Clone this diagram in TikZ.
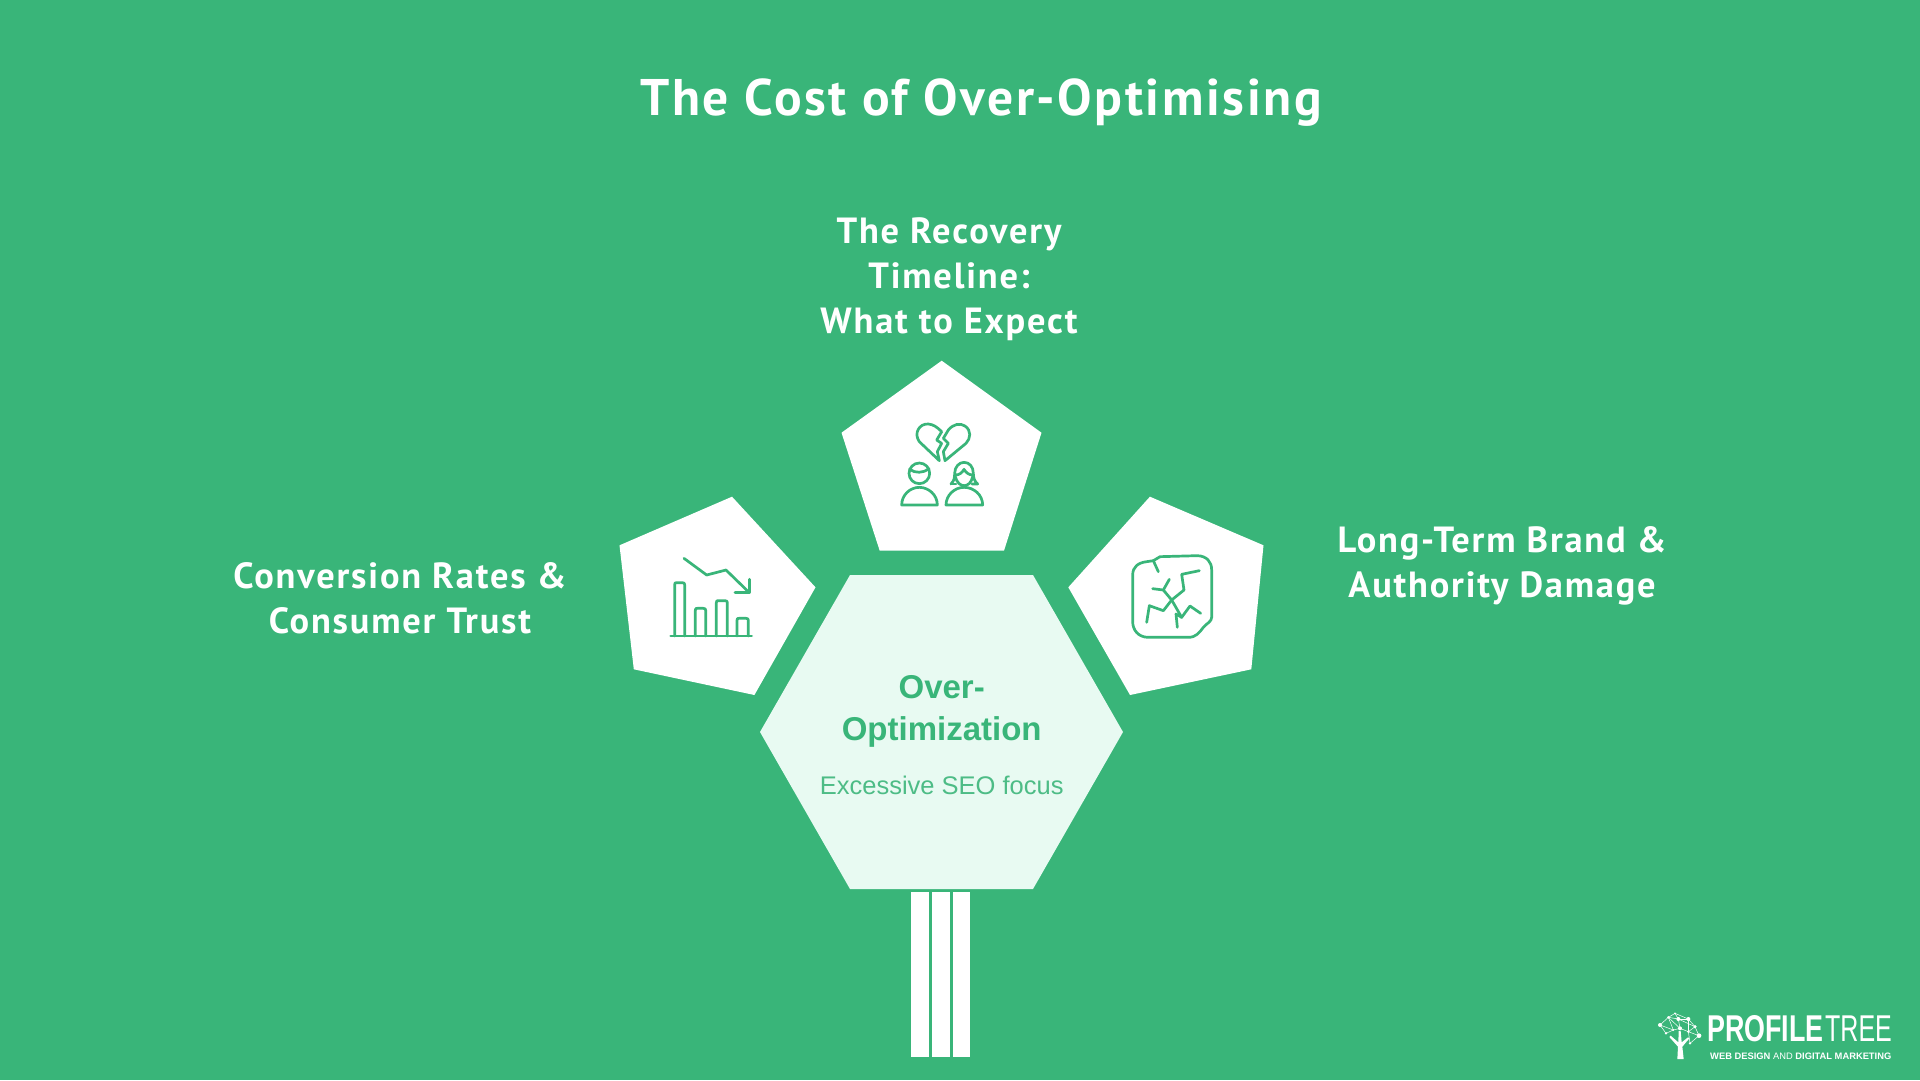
\documentclass[tikz,border=0pt]{standalone}
\usepackage{fontspec}
\setmainfont{Liberation Sans}
\newfontfamily\headfont{PT Sans}[LetterSpace=5]
\newfontfamily\logobold{Liberation Sans}[FakeStretch=0.72]
\newfontfamily\logoreg{Liberation Sans}[FakeStretch=0.67]
\definecolor{bggreen}{HTML}{39B579}
\definecolor{hexfill}{HTML}{E8FAF2}
\tikzset{
  x=1pt,y=-1pt,
  pentagon/.style={fill=white,draw=none},
  hexagon/.style={fill=hexfill,draw=none},
  stripe/.style={fill=white,draw=none},
  iconline/.style={draw=bggreen,line width=2.7pt,line cap=round,line join=round,fill=none},
  title/.style={text=white,font=\headfont\bfseries\fontsize{51.5}{56}\selectfont,align=center},
  label/.style={text=white,font=\headfont\bfseries\fontsize{36.4}{45}\selectfont,align=center},
  hexhead/.style={text=bggreen,font=\bfseries\fontsize{33}{42}\selectfont,align=center},
  hexsub/.style={text=bggreen!90!white,font=\fontsize{25.5}{30}\selectfont,align=center},
  logoline/.style={draw=white,line width=0.5pt},
  logodot/.style={fill=white,draw=none},
  icon/.style={shift={#1},x=0.33333pt,y=-0.33333pt},
}
\begin{document}
\begin{tikzpicture}
\useasboundingbox (0,0) rectangle (1920,1080);
\fill[bggreen] (0,0) rectangle (1920,1080);
% texts
\node[title] (ttl) at (981,103) {The Cost of Over-Optimising};
\node[label] (l1) at (949,279) {The Recovery\\Timeline:\\What to Expect};
\node[label] (l2) at (400,598) {Conversion Rates \&\\Consumer Trust};
\node[label] (l3) at (1502,566) {Long-Term Brand \&\\Authority Damage};
% pentagons
\fill[pentagon] (941.7,360.7) -- (1041.5,432.7) -- (1004,550.7) -- (879.7,550.7) -- (841.5,432.7) -- cycle;
\fill[pentagon] (732,496.7) -- (815.5,587.3) -- (754.4,695) -- (633.8,669.3) -- (619.5,545.3) -- cycle;
\fill[pentagon] (1149.9,496.7) -- (1263.5,545.3) -- (1251.3,669.3) -- (1130,695) -- (1068.3,587.3) -- cycle;
% hexagon
\fill[hexagon] (850,575) -- (1033,575) -- (1123,732) -- (1033,889) -- (850,889) -- (760,732) -- cycle;
\node[hexhead] (hh) at (941.7,711.5) {Over-\\Optimization};
\node[hexsub] (hs) at (941.7,785) {Excessive SEO focus};
% stripes
\fill[stripe] (911,892.3) rectangle (928.7,1056.7);
\fill[stripe] (932,892.3) rectangle (949.7,1056.7);
\fill[stripe] (953,892.3) rectangle (970.3,1056.7);
% hearts and people icon
\begin{scope}[icon={(880,410)}]
\draw[iconline] (178,152) -- (118,95) .. controls (100,70) and (118,40) .. (145,42) .. controls (160,43) and (172,52) .. (185,65) -- (170,90) -- (185,100) -- (172,125) -- cycle;
\draw[iconline] (195,152) -- (190,125) -- (205,100) -- (190,85) -- (205,60) .. controls (220,42) and (240,38) .. (255,48) .. controls (275,62) and (272,85) .. (258,100) -- cycle;
\draw[iconline] (118,190) circle[radius=31];
\draw[iconline] (89,178) .. controls (105,190) and (130,190) .. (147,176);
\draw[iconline] (65,285) .. controls (65,255) and (90,232) .. (118,232) .. controls (146,232) and (172,255) .. (172,285) -- cycle;
\draw[iconline] (213,222) .. controls (222,212) and (224,205) .. (224,190) .. controls (224,170) and (238,157) .. (252,157) .. controls (268,157) and (280,170) .. (280,190) .. controls (280,205) and (284,214) .. (293,222) -- (276,222);
\draw[iconline] (213,222) -- (228,222);
\draw[iconline] (225,195) .. controls (240,195) and (246,188) .. (252,178) .. controls (258,188) and (266,195) .. (280,195);
\draw[iconline] (226,200) .. controls (230,218) and (242,227) .. (252,227) .. controls (264,227) and (274,218) .. (278,200);
\draw[iconline] (198,285) .. controls (198,255) and (224,232) .. (252,232) .. controls (282,232) and (308,255) .. (308,285) -- cycle;
\end{scope}
% chart icon
\begin{scope}[icon={(650,540)}]
\draw[iconline] (62,288) -- (305,288);
\draw[iconline] (74,288) -- (74,134) .. controls (74,128) and (76,128) .. (80,128) -- (97,128) .. controls (102,128) and (104,130) .. (104,134) -- (104,288);
\draw[iconline] (136,288) -- (136,211) .. controls (136,205) and (138,205) .. (142,205) -- (160,205) .. controls (165,205) and (167,207) .. (167,211) -- (167,288);
\draw[iconline] (199,288) -- (199,188) .. controls (199,182) and (201,182) .. (205,182) -- (225,182) .. controls (230,182) and (232,184) .. (232,188) -- (232,288);
\draw[iconline] (261,288) -- (261,241) .. controls (261,235) and (263,235) .. (267,235) -- (288,235) .. controls (293,235) and (295,237) .. (295,241) -- (295,288);
\draw[iconline] (102,55) -- (170,105) -- (228,90) -- (298,158);
\draw[iconline] (298,118) -- (298,158) -- (255,158);
\end{scope}
% cracked icon
\begin{scope}[icon={(1110,540)}]
\draw[iconline] (150,50) -- (262,47) .. controls (290,48) and (305,65) .. (305,90) -- (305,232) .. controls (305,245) and (290,250) .. (280,262) .. controls (268,278) and (258,292) .. (235,292) -- (115,292) .. controls (85,292) and (68,270) .. (68,245) -- (68,105) .. controls (68,80) and (85,68) .. (110,65) -- (130,62) -- cycle;
\draw[iconline] (130,62) -- (145,95);
\draw[iconline] (185,180) -- (222,150) -- (215,103) -- (268,92);
\draw[iconline] (185,180) -- (160,150) -- (178,118);
\draw[iconline] (160,150) -- (128,146);
\draw[iconline] (185,180) -- (160,212) -- (118,197) -- (110,247);
\draw[iconline] (185,180) -- (215,232) -- (240,198) -- (272,220);
\draw[iconline] (215,232) -- (198,222) -- (202,262);
\end{scope}
% logo tree
\begin{scope}[icon={(1650,1005)}]
\fill[logodot] (82,162) -- (101,162) -- (97,125) -- (118,100) -- (114,97) -- (95,112) -- (92,78) -- (86,78) -- (85,112) -- (62,92) -- (58,96) -- (84,125) -- cycle;
\foreach \a/\b/\c/\d in {30/60/55/37, 55/37/85/42, 85/42/115/42, 115/42/135/65, 135/65/147/92, 147/92/120/115, 30/60/48/85, 48/85/70/75, 70/75/90/70, 90/70/115/80, 115/80/135/65, 85/42/90/70, 55/37/70/75, 115/42/115/80, 115/80/120/115, 115/80/147/92, 75/25/55/37, 75/25/85/42, 75/25/115/42, 30/60/70/75, 85/42/135/65, 55/37/90/70} {
  \draw[logoline] (\a,\b) -- (\c,\d);
}
\foreach \a/\b/\r in {30/60/6, 55/37/4, 85/42/6, 115/42/6, 90/70/6, 135/65/5, 147/92/7, 115/80/4, 120/115/4, 48/85/4, 70/75/3, 75/25/3} {
  \fill[logodot] (\a,\b) circle[radius=\r];
}
\end{scope}
% logo text
\node[anchor=west,inner sep=0pt,text=white,font=\logobold\bfseries\fontsize{37.3}{40}\selectfont] (lg1) at (1707,1028.5) {PROFILE};
\node[anchor=west,inner sep=0pt,text=white,font=\logoreg\fontsize{37.3}{40}\selectfont] (lg2) at (1825,1028.5) {TREE};
\node[anchor=west,inner sep=0pt,text=white,font=\fontsize{9.35}{11}\selectfont] (lg3) at (1710,1056.5) {\textbf{WEB DESIGN} AND \textbf{DIGITAL MARKETING}};
\end{tikzpicture}
\end{document}
